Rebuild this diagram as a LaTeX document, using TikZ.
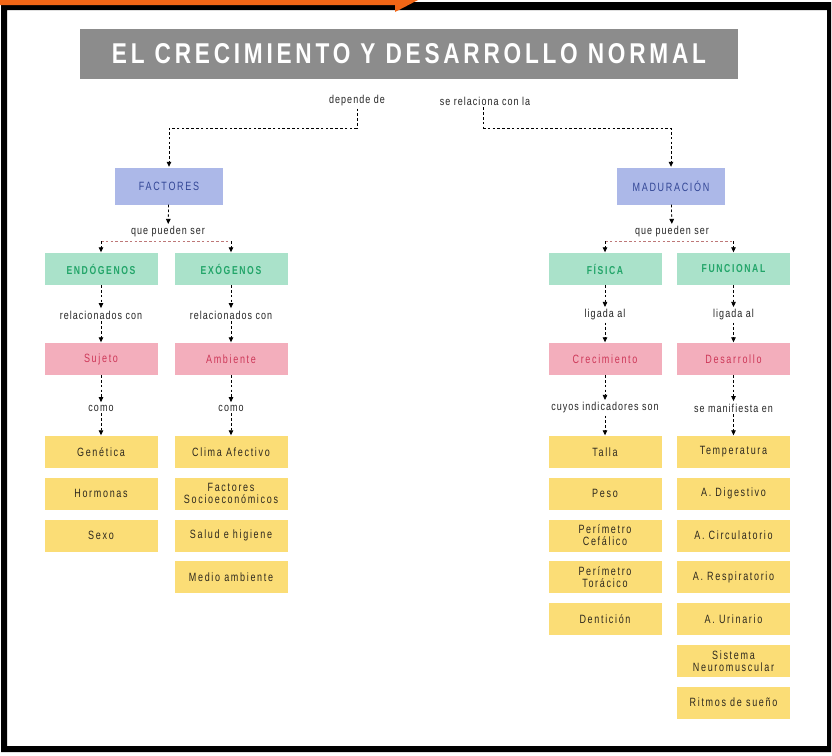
\documentclass[tikz,border=0pt]{standalone}
\usepackage{fontspec}
\setmainfont{Liberation Sans}
\newfontfamily\lblfont[FakeStretch=0.78,LetterSpace=9]{Liberation Sans}
\newfontfamily\boxfont[FakeStretch=0.75,LetterSpace=14]{Liberation Sans}
\newfontfamily\titlefont[FakeStretch=0.72,LetterSpace=12]{Liberation Sans}
\usetikzlibrary{arrows.meta}
\definecolor{cblue}{RGB}{172,184,232}
\definecolor{cbluet}{RGB}{50,70,150}
\definecolor{cgreen}{RGB}{170,226,202}
\definecolor{cgreent}{RGB}{34,165,105}
\definecolor{cpink}{RGB}{243,174,188}
\definecolor{cpinkt}{RGB}{205,55,88}
\definecolor{cyel}{RGB}{251,221,118}
\definecolor{cyelt}{RGB}{45,40,30}
\definecolor{ctitle}{RGB}{140,140,140}
\definecolor{corange}{RGB}{242,102,22}
\definecolor{cdash}{RGB}{190,120,120}
\tikzset{
  box/.style={minimum width=113pt, minimum height=32pt, inner sep=0pt, align=center,
    font=\boxfont\fontsize{12}{12}\selectfont},
  bluebox/.style={box, fill=cblue, text=cbluet, minimum width=108pt, minimum height=37pt},
  greenbox/.style={box, fill=cgreen, text=cgreent, font=\boxfont\bfseries\fontsize{11.5}{12}\selectfont},
  pinkbox/.style={box, fill=cpink, text=cpinkt},
  yelbox/.style={box, fill=cyel, text=cyelt},
  lbl/.style={font=\lblfont\fontsize{11.5}{12}\selectfont, inner sep=2pt, text=black!85},
  conn/.style={line width=0.8pt, dash pattern=on 2.6pt off 2.2pt,
    -{Triangle[length=5pt,width=4.5pt]}, shorten >=0.5pt},
  plainline/.style={line width=0.8pt, dash pattern=on 2.6pt off 2.2pt},
  splitline/.style={line width=0.8pt, dash pattern=on 2.6pt off 2.2pt, draw=cdash},
}
\begin{document}
\begin{tikzpicture}[x=1pt, y=-1pt]
\useasboundingbox (0,0) rectangle (832,755);
\fill[white] (0,0) rectangle (832,755);
\fill[black, even odd rule] (1,2) rectangle (831,752) (7,10) rectangle (827,746);
\fill[corange] (0,0) -- (418,0) -- (395,12) -- (395,5) -- (0,5) -- cycle;

\node[fill=ctitle, minimum width=658pt, minimum height=50pt, inner sep=0pt, text=white] (title) at (409,54)
  {\resizebox{594pt}{20pt}{\titlefont\bfseries EL CRECIMIENTO Y DESARROLLO NORMAL}};

\node[lbl] (dep) at (357,101) {depende de};
\node[lbl] (rel) at (485,101) {se relaciona con la};

\node[bluebox] (fact) at (169,186) {FACTORES};
\node[bluebox] (madu) at (671,186) {MADURACIÓN};

\coordinate (j1) at (357,128);
\coordinate (j2) at (483,128);
\draw[plainline] (dep.south) -- (j1);
\draw[conn] (j1) -| (fact.north);
\draw[plainline] (j2 |- rel.south) -- (j2);
\draw[conn] (j2) -| (madu.north);

\node[lbl] (que1) at (168,232) {que pueden ser};
\node[lbl] (que2) at (672,232) {que pueden ser};
\draw[conn] (fact) -- (que1);
\draw[conn] (madu) -- (que2);

\node[greenbox] (endo) at (101,269) {ENDÓGENOS};
\node[greenbox] (exo) at (231,269) {EXÓGENOS};
\node[greenbox] (fis) at (605,269) {FÍSICA};
\node[greenbox] (func) at (733.5,269) {FUNCIONAL};

\coordinate (q1l) at (101,241);
\coordinate (q1r) at (231,241);
\coordinate (q2l) at (605,241);
\coordinate (q2r) at (733.5,241);
\draw[splitline] (q1l) -- (q1r);
\draw[splitline] (q2l) -- (q2r);
\draw[conn] (q1l) -- (endo);
\draw[conn] (q1r) -- (exo);
\draw[conn] (q2l) -- (fis);
\draw[conn] (q2r) -- (func);

\node[lbl] (rel1) at (101,315) {relacionados con};
\node[lbl] (rel2) at (231,315) {relacionados con};
\node[lbl] (lig1) at (605,315) {ligada al};
\node[lbl] (lig2) at (733.5,315) {ligada al};
\draw[conn] (endo) -- (rel1);
\draw[conn] (exo) -- (rel2);
\draw[conn] (fis) -- (lig1);
\draw[conn] (func) -- (lig2);

\node[pinkbox] (suj) at (101,359) {Sujeto};
\node[pinkbox] (amb) at (231,359) {Ambiente};
\node[pinkbox] (crec) at (605,359) {Crecimiento};
\node[pinkbox] (desa) at (733.5,359) {Desarrollo};
\draw[conn] (rel1) -- (suj);
\draw[conn] (rel2) -- (amb);
\draw[conn] (lig1) -- (crec);
\draw[conn] (lig2) -- (desa);

\node[lbl] (como1) at (101,408) {como};
\node[lbl] (como2) at (231,408) {como};
\node[lbl] (cuyos) at (605,408) {cuyos indicadores son};
\node[lbl] (mani) at (733.5,408) {se manifiesta en};
\draw[conn] (suj) -- (como1);
\draw[conn] (amb) -- (como2);
\draw[conn] (crec) -- (cuyos);
\draw[conn] (desa) -- (mani);

\node[yelbox] (gen) at (101,452) {Genética};
\node[yelbox] (hor) at (101,493.5) {Hormonas};
\node[yelbox] (sex) at (101,535.5) {Sexo};

\node[yelbox] (clim) at (231,452) {Clima Afectivo};
\node[yelbox] (soc) at (231,493.5) {Factores\\Socioeconómicos};
\node[yelbox] (sal) at (231,535.5) {Salud e higiene};
\node[yelbox] (med) at (231,577) {Medio ambiente};

\node[yelbox] (tal) at (605,452) {Talla};
\node[yelbox] (pes) at (605,493.5) {Peso};
\node[yelbox] (cef) at (605,535.5) {Perímetro\\Cefálico};
\node[yelbox] (tor) at (605,577) {Perímetro\\Torácico};
\node[yelbox] (den) at (605,619) {Dentición};

\node[yelbox] (tem) at (733.5,452) {Temperatura};
\node[yelbox] (dig) at (733.5,493.5) {A. Digestivo};
\node[yelbox] (cir) at (733.5,535.5) {A. Circulatorio};
\node[yelbox] (res) at (733.5,577) {A. Respiratorio};
\node[yelbox] (uri) at (733.5,619) {A. Urinario};
\node[yelbox] (neu) at (733.5,661) {Sistema\\Neuromuscular};
\node[yelbox] (rit) at (733.5,702.5) {Ritmos de sueño};

\draw[conn] (como1) -- (gen);
\draw[conn] (como2) -- (clim);
\draw[conn] (cuyos) -- (tal);
\draw[conn] (mani) -- (tem);
\end{tikzpicture}
\end{document}
